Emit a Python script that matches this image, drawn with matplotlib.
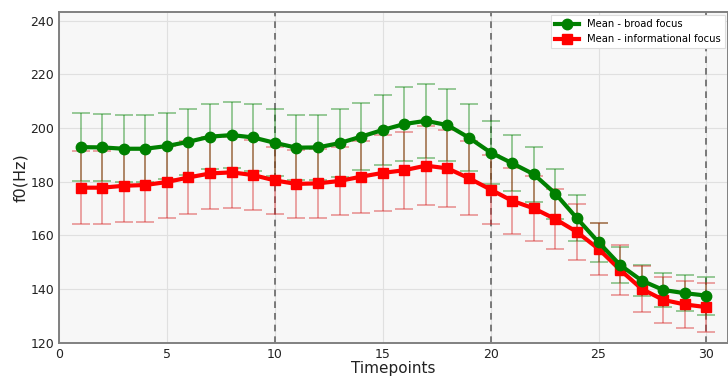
import matplotlib
matplotlib.use("Agg")
import matplotlib.pyplot as plt

timepoints = list(range(1, 31))

broad_mean = [192.9, 192.8, 192.3, 192.3, 193.3, 194.9, 196.8, 197.4, 196.5, 194.5,
              192.7, 192.8, 194.4, 196.8, 199.3, 201.5, 202.7, 201.1, 196.4, 190.9,
              186.9, 182.8, 175.6, 166.4, 157.5, 149.0, 143.2, 139.7, 138.5, 137.6]
broad_sd = [12.6, 12.4, 12.5, 12.5, 12.2, 12.3, 12.1, 12.3, 12.4, 12.5,
            12.0, 12.1, 12.6, 12.6, 13.1, 13.8, 13.9, 13.4, 12.5, 11.9,
            10.5, 10.2, 9.3, 8.6, 7.3, 6.8, 5.8, 6.2, 6.7, 7.1]

info_mean = [177.8, 177.8, 178.5, 178.8, 179.9, 181.6, 183.1, 183.5, 182.5, 180.5,
             179.2, 179.4, 180.3, 181.9, 183.3, 184.3, 186.0, 185.0, 181.3, 177.1,
             172.9, 170.1, 166.1, 161.3, 155.0, 147.2, 140.1, 136.0, 134.3, 133.3]
info_sd = [13.5, 13.5, 13.6, 13.7, 13.5, 13.5, 13.4, 13.2, 13.0, 12.5,
           12.6, 12.8, 12.8, 13.4, 14.1, 14.3, 14.7, 14.4, 13.7, 12.9,
           12.3, 12.1, 11.2, 10.5, 9.8, 9.2, 8.7, 8.7, 8.6, 9.1]

x_ticks = [0, 5, 10, 15, 20, 25, 30]
y_ticks = [120, 140, 160, 180, 200, 220, 240]
boundaries = [10, 20, 30]

fig = plt.figure(figsize=(7.28, 3.78), dpi=100)
ax = fig.add_axes([0.081, 0.093, 0.919, 0.875])
ax.set_facecolor("#f7f7f7")
ax.grid(True, color="#e0e0e0", linewidth=0.8)
ax.set_axisbelow(True)

for b in boundaries:
    ax.axvline(b, color="#666666", linestyle=(0, (4, 3)), linewidth=1.2, zorder=1)

ax.errorbar(timepoints, broad_mean, yerr=broad_sd, fmt="none", ecolor="green",
            alpha=0.5, elinewidth=1.1, capsize=6.5, capthick=1.1, zorder=2)
ax.errorbar(timepoints, info_mean, yerr=info_sd, fmt="none", ecolor="#d62020",
            alpha=0.5, elinewidth=1.1, capsize=6.5, capthick=1.1, zorder=2)

ax.plot(timepoints, broad_mean, color="green", linewidth=3, marker="o",
        markersize=7.5, label="Mean - broad focus", zorder=4)
ax.plot(timepoints, info_mean, color="red", linewidth=3, marker="s",
        markersize=7.3, label="Mean - informational focus", zorder=3)

ax.set_xlim(0, 31)
ax.set_ylim(120, 243.2)
ax.set_xticks(x_ticks)
ax.set_yticks(y_ticks)
ax.tick_params(axis="both", labelsize=9, length=0, pad=3.5, labelcolor="#222222")

for side in ax.spines.values():
    side.set_color("#808080")
    side.set_linewidth(1.4)

ax.set_xlabel("Timepoints", fontsize=11, color="#222222")
ax.set_ylabel("f0(Hz)", fontsize=11.5, color="#222222")
ax.xaxis.set_label_coords(0.5, -0.056)
ax.yaxis.set_label_coords(-0.046, 0.5)

leg = ax.legend(loc="upper right", fontsize=7.2, frameon=True, borderaxespad=0.3,
                handlelength=2.4, fancybox=False, framealpha=1.0)
leg.get_frame().set_edgecolor("#dddddd")
leg.get_frame().set_linewidth(0.8)

fig.savefig("out.png", dpi=100)
